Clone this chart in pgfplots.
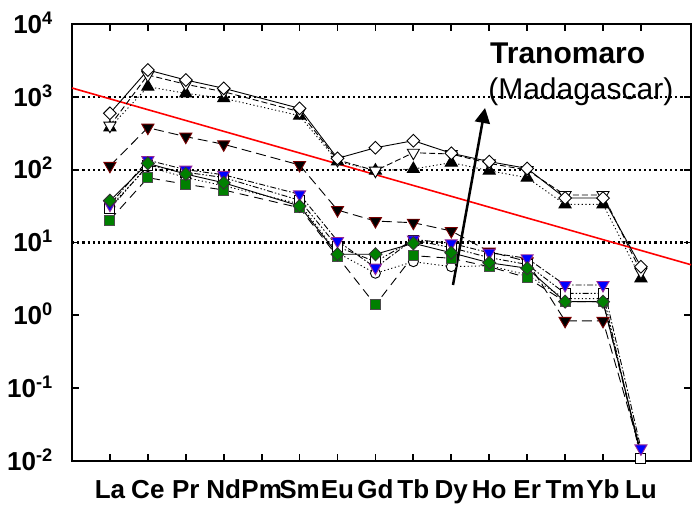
\documentclass[border=0pt]{standalone}
\usepackage{pgfplots}
\pgfplotsset{compat=1.18}
\usepackage{fontspec}
\setmainfont{Liberation Sans}
\usetikzlibrary{arrows.meta}
\definecolor{mygreen}{RGB}{0,128,0}
\definecolor{dkred}{RGB}{120,0,0}
\definecolor{mypurple}{RGB}{150,40,150}
\begin{document}
\begin{tikzpicture}
\begin{axis}[
  at={(0,0)}, anchor=south west,
  scale only axis, width=619pt, height=437pt,
  ymode=log, ymin=0.01, ymax=10000, xmin=-1, xmax=15.32,
  clip=false,
  axis line style={line width=2pt},
  xtick={0,...,14},
  xticklabels={La,Ce,Pr,Nd,Pm,Sm,Eu,Gd,Tb,Dy,Ho,Er,Tm,Yb,Lu},
  ytick={0.01,0.1,1,10,100,1000,10000},
  yticklabels={10\textsuperscript{-2},10\textsuperscript{-1},10\textsuperscript{0},10\textsuperscript{1},10\textsuperscript{2},10\textsuperscript{3},10\textsuperscript{4}},
  yminorticks=false,
  tick align=inside, xtick pos=both, ytick pos=both,
  major tick length=7pt, tick style={line width=1.8pt, black},
  ticklabel style={font=\bfseries\fontsize{26}{26}\selectfont},
  xticklabel style={inner sep=0pt, text height=18pt, text depth=5pt, yshift=-19pt},
  yticklabel style={anchor=base east, inner sep=0pt, yshift=-9.3pt, xshift=-19pt},
]
% grid lines
\addplot[line width=2.2pt, dash pattern=on 2.2pt off 3pt] coordinates {(-1,10) (15.32,10)};
\addplot[line width=2.2pt, dash pattern=on 2.2pt off 3pt] coordinates {(-1,100) (15.32,100)};
\addplot[line width=2.2pt, dash pattern=on 2.2pt off 3pt] coordinates {(-1,1000) (15.32,1000)};
% red line
\addplot[red, line width=1.6pt] coordinates {(-1,1322) (15.32,4.95)};
% S3 black up triangle, dotted
\addplot[black, line width=0.9pt, dash pattern=on 1.2pt off 2.5pt, mark=triangle*, mark size=7pt, mark options={solid, fill=black}]
 coordinates {(0,380)(1,1377)(2,1117)(3,955)(5,551)(6,130)(7,97)(8,102)(9,125)(10,96.8)(11,77.6)(12,33.4)(13,33.4)(14,3.22)};
% S2 open down triangle, dashed
\addplot[black, line width=0.9pt, dash pattern=on 6pt off 3pt, mark=triangle*, mark size=7pt, mark options={solid, fill=white, rotate=180}]
 coordinates {(0,402)(1,1995)(2,1486)(3,1175)(5,625)(6,136)(7,96.8)(8,171)(9,164)(10,122)(11,98.9)(12,44.9)(13,44.9)(14,3.97)};
% S1 open diamond, solid
\addplot[black, line width=0.9pt, mark=square*, mark size=4.5pt, mark options={solid, fill=white, rotate=45}]
 coordinates {(0,594)(1,2335)(2,1702)(3,1310)(5,695)(6,143)(7,200)(8,250)(9,168)(10,129)(11,104)(12,40.8)(13,40.8)(14,4.65)};
% S4 black down triangle, long dash
\addplot[black, line width=0.9pt, dash pattern=on 10pt off 5pt, mark=triangle*, mark size=7pt, mark indices={1,...,13}, mark options={solid, fill=black, draw=dkred, rotate=180}]
 coordinates {(0,113)(1,377)(2,284)(3,223)(5,116)(6,27.9)(7,19.7)(8,18.7)(9,14.4)(10,7.5)(11,5.5)(12,0.84)(13,0.84)(14,0.013)};
% S7 open circle, dotted
\addplot[black, line width=0.9pt, dash pattern=on 1.2pt off 2.5pt, mark=*, mark size=5pt, mark indices={1,...,13}, mark options={solid, fill=white}]
 coordinates {(0,31)(1,110)(2,78)(3,60)(5,34)(6,7.2)(7,3.78)(8,5.45)(9,4.66)(10,4.8)(11,3.6)(12,1.7)(13,1.7)(14,0.012)};
% S5 green square, long dash
\addplot[black, line width=0.9pt, dash pattern=on 9pt off 6pt, mark=square*, mark size=5pt, mark indices={1,...,13}, mark options={solid, fill=mygreen, draw=black!70}]
 coordinates {(0,20.4)(1,77.6)(2,63)(3,52.6)(5,30)(6,6.38)(7,1.39)(8,6.6)(9,6.07)(10,4.66)(11,3.29)(12,1.54)(13,1.54)(14,0.012)};
% S9 open square, dash dot dot
\addplot[black, line width=0.9pt, dash pattern=on 6pt off 2pt on 1.5pt off 2pt on 1.5pt off 2pt, mark=square*, mark size=5pt, mark options={solid, fill=white}]
 coordinates {(0,29)(1,115)(2,92)(3,78)(5,38)(6,8.75)(7,5.45)(8,10.8)(9,8.5)(10,6.2)(11,5)(12,2.0)(13,2.0)(14,0.0109)};
% S8 blue down triangle, dash dot
\addplot[black, line width=0.9pt, dash pattern=on 6pt off 2pt on 1.5pt off 2pt, mark=triangle*, mark size=7pt, mark options={solid, fill=blue, draw=mypurple, rotate=180}]
 coordinates {(0,33)(1,135)(2,100)(3,85)(5,45.9)(6,10.5)(7,4.51)(8,11)(9,9.75)(10,7.24)(11,6.07)(12,2.61)(13,2.61)(14,0.0149)};
% S6 green diamond, solid
\addplot[black, line width=0.9pt, mark=square*, mark size=4.6pt, mark indices={1,...,13}, mark options={solid, fill=mygreen, draw=black!80, rotate=45}]
 coordinates {(0,37.5)(1,122)(2,87)(3,66)(5,31.7)(6,6.9)(7,6.9)(8,9.75)(9,7.24)(10,5.27)(11,4.43)(12,1.54)(13,1.54)(14,0.013)};
% arrow and text
\draw[line width=2.5pt, -{Triangle[length=15pt,width=15pt]}] (axis cs:9.045,2.61) -- (axis cs:9.89,703);
\node[anchor=base west, inner sep=0pt, font=\bfseries\fontsize{30}{30}\selectfont] at (axis cs:10.02,2914) {Tranomaro};
\node[anchor=base west, inner sep=0pt, font=\fontsize{30}{30}\selectfont] at (axis cs:9.97,933) {(Madagascar)};
\end{axis}
\pgfresetboundingbox
\path[use as bounding box] (-72pt,-43pt) rectangle (621pt,461pt);
\end{tikzpicture}
\end{document}
